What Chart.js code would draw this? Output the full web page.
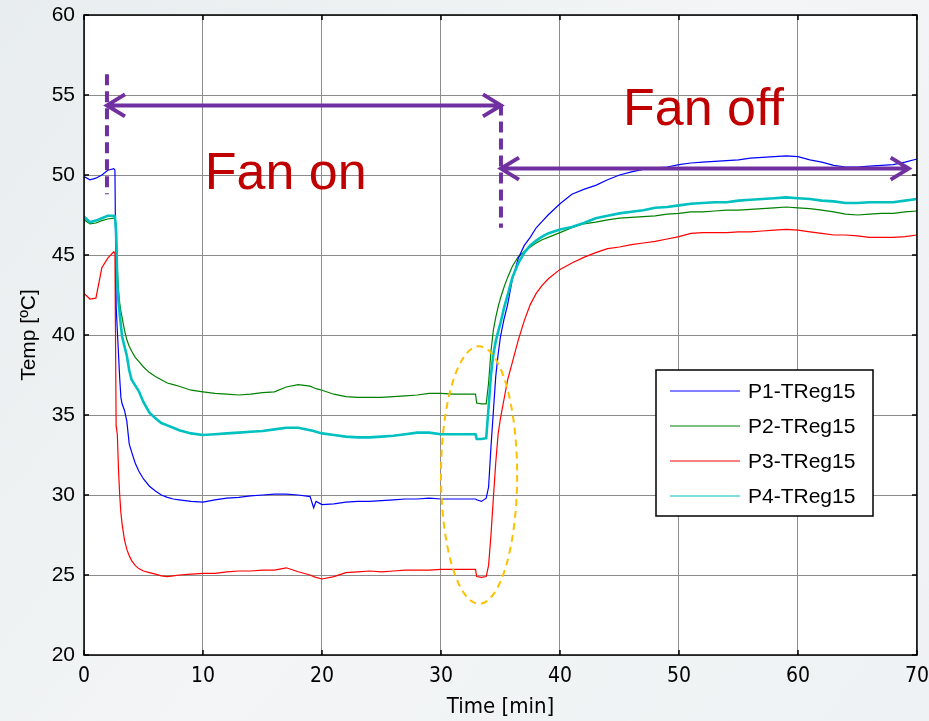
<!DOCTYPE html>
<html>
<head>
<meta charset="utf-8">
<script src="https://cdn.jsdelivr.net/npm/chart.js@4"></script>
<style>
  html, body { margin: 0; padding: 0; background: #eef2f3; }
  #wrap { width: 929px; height: 721px; }
</style>
</head>
<body>
<div id="wrap"><canvas id="tempChart" width="929" height="721"></canvas></div>
<script>
// time axis (min), shared by all four probes
const minutes = [0, 0.5, 1, 1.5, 2, 2.5, 2.6, 2.7, 2.8, 2.9, 3.0, 3.1, 3.2, 3.4, 3.6, 3.8, 4.0, 4.3, 4.6, 5.0,
  5.5, 6.0, 6.5, 7, 7.5, 8, 9, 10, 11, 12, 13, 14, 15, 16, 17, 18, 19, 19.3, 19.5, 20,
  21, 22, 23, 24, 25, 26, 27, 28, 29, 30, 31, 32, 32.9, 33.0, 33.4, 33.8, 34.0, 34.2, 34.4, 34.6,
  34.8, 35.0, 35.3, 35.6, 36.0, 36.5, 37, 37.5, 38, 38.5, 39, 40, 41, 42, 43, 44, 45, 46, 47, 48,
  49, 50, 51, 52, 53, 54, 55, 56, 57, 58, 59, 60, 61, 62, 63, 64, 65, 66, 67, 68, 69, 70];

const p1 = [49.9, 49.7, 49.8, 50.0, 50.3, 50.4, 50.3, 41.8, 40.3, 38.8, 37.3, 36.1, 35.7, 35.3, 34.6, 33.2, 32.7, 32.0, 31.5, 31.0,
  30.55, 30.25, 30.0, 29.85, 29.75, 29.7, 29.6, 29.55, 29.7, 29.8, 29.85, 29.95, 30.0, 30.05, 30.05, 30.0, 29.9, 29.2, 29.6, 29.4,
  29.45, 29.55, 29.6, 29.6, 29.65, 29.7, 29.75, 29.75, 29.8, 29.75, 29.75, 29.75, 29.75, 29.7, 29.6, 29.8, 30.5, 33.0, 35.2, 37.4,
  38.8, 39.9, 41.0, 41.9, 43.5, 44.8, 45.6, 46.1, 46.7, 47.1, 47.5, 48.2, 48.8, 49.1, 49.35, 49.7, 50.0, 50.2, 50.35, 50.45,
  50.5, 50.65, 50.75, 50.8, 50.85, 50.9, 50.95, 51.05, 51.1, 51.15, 51.2, 51.15, 50.95, 50.8, 50.6, 50.5, 50.5, 50.55, 50.6, 50.65, 50.8, 51.0];

const p2 = [47.2, 46.95, 47.0, 47.15, 47.25, 47.3, 47.3, 46.9, 44.1, 42.8, 42.0, 41.5, 41.1, 40.3, 39.7, 39.3, 39.0, 38.6, 38.35, 38.0,
  37.65, 37.4, 37.2, 37.0, 36.9, 36.8, 36.55, 36.45, 36.35, 36.3, 36.25, 36.3, 36.4, 36.45, 36.75, 36.9, 36.8, 36.7, 36.65, 36.55,
  36.3, 36.15, 36.1, 36.1, 36.1, 36.15, 36.2, 36.25, 36.35, 36.35, 36.3, 36.3, 36.3, 35.75, 35.7, 35.7, 37.0, 39.0, 40.3, 41.1,
  41.75, 42.3, 43.0, 43.6, 44.3, 44.9, 45.2, 45.5, 45.75, 45.95, 46.1, 46.4, 46.7, 46.95, 47.05, 47.2, 47.3, 47.35, 47.4, 47.45,
  47.55, 47.6, 47.7, 47.7, 47.75, 47.8, 47.8, 47.85, 47.9, 47.95, 48.0, 47.95, 47.9, 47.8, 47.7, 47.55, 47.5, 47.55, 47.6, 47.6, 47.7, 47.75];

const p3 = [42.6, 42.25, 42.3, 44.2, 44.8, 45.2, 45.1, 34.3, 33.8, 31.6, 30.0, 28.9, 28.2, 27.2, 26.6, 26.2, 25.9, 25.6, 25.4, 25.25,
  25.15, 25.05, 24.95, 24.9, 24.95, 25.0, 25.05, 25.1, 25.1, 25.2, 25.25, 25.25, 25.3, 25.3, 25.45, 25.2, 25.0, 24.9, 24.85, 24.75,
  24.9, 25.15, 25.2, 25.25, 25.2, 25.25, 25.3, 25.3, 25.3, 25.35, 25.35, 25.35, 25.35, 24.9, 24.85, 24.9, 25.6, 27.5, 29.8, 32.0,
  33.8, 34.8, 36.0, 37.2, 38.3, 39.7, 40.9, 41.9, 42.6, 43.1, 43.5, 44.1, 44.5, 44.85, 45.15, 45.4, 45.5, 45.65, 45.75, 45.85,
  46.0, 46.15, 46.35, 46.4, 46.4, 46.4, 46.45, 46.45, 46.5, 46.55, 46.6, 46.55, 46.45, 46.35, 46.25, 46.25, 46.2, 46.1, 46.1, 46.1, 46.15, 46.25];

const p4 = [47.4, 47.05, 47.15, 47.3, 47.45, 47.45, 47.4, 46.5, 43.2, 42.1, 41.3, 40.6, 39.9, 39.3, 38.7, 37.8, 37.2, 36.85, 36.5, 35.8,
  35.15, 34.8, 34.5, 34.35, 34.2, 34.05, 33.85, 33.75, 33.8, 33.85, 33.9, 33.95, 34.0, 34.1, 34.2, 34.2, 34.05, 34.0, 33.95, 33.85,
  33.75, 33.65, 33.6, 33.6, 33.65, 33.7, 33.8, 33.9, 33.9, 33.8, 33.8, 33.8, 33.8, 33.5, 33.5, 33.55, 35.5, 37.5, 38.8, 39.6,
  40.2, 40.75, 41.7, 42.5, 43.6, 44.5, 45.15, 45.6, 45.9, 46.15, 46.35, 46.6, 46.75, 47.0, 47.3, 47.45, 47.6, 47.7, 47.8, 47.95,
  48.0, 48.1, 48.2, 48.25, 48.3, 48.3, 48.4, 48.45, 48.5, 48.55, 48.6, 48.55, 48.5, 48.4, 48.35, 48.25, 48.25, 48.3, 48.3, 48.3, 48.4, 48.5];

const seriesNames = ['P1-TReg15', 'P2-TReg15', 'P3-TReg15', 'P4-TReg15'];
const seriesColors = ['#0000ff', '#008000', '#ff0000', '#00c0c0'];

// annotation anchors in data units
const fanSwitch = [1.93, 35.04];          // dashed vertical markers (min)
const markerSpan = [[56.3, 48.8], [54.4, 46.7]];
const fanOnArrow = [1.93, 35.04, 54.35];  // from, to, temp
const fanOffArrow = [35.04, 69.3, 50.4];
const fanLabels = [['Fan on', 10.15, 49.1], ['Fan off', 45.3, 53.1]];
const ellipseMark = [33.2, 31.25, 3.2, 8.05]; // centre t, centre T, half-width, half-height

const ctx = document.getElementById('tempChart').getContext('2d');

const datasets = [p1, p2, p3, p4].map((vals, i) => ({
  label: seriesNames[i],
  data: vals.map((v, k) => ({ x: minutes[k], y: v })),
  borderColor: seriesColors[i],
  borderWidth: i === 3 ? 2.6 : 1.2,
  pointRadius: 0,
  fill: false,
  tension: 0,
  order: [1, 2, 3, 0][i]
}));

const decor = {
  id: 'decor',
  beforeDraw(chart) {
    const c = chart.ctx, a = chart.chartArea;
    const g = c.createLinearGradient(0, 0, chart.width, chart.height);
    g.addColorStop(0, '#e8edef');
    g.addColorStop(0.5, '#f3f5f6');
    g.addColorStop(1, '#eef2f4');
    c.save();
    c.fillStyle = g;
    c.fillRect(0, 0, chart.width, chart.height);
    c.fillStyle = '#ffffff';
    c.fillRect(a.left, a.top, a.right - a.left, a.bottom - a.top);
    c.restore();
  },
  afterDatasetsDraw(chart) {
    const c = chart.ctx, a = chart.chartArea;
    const xs = chart.scales.x, ys = chart.scales.y;
    c.save();
    // box + inner ticks
    c.strokeStyle = '#000';
    c.lineWidth = 1.5;
    c.strokeRect(a.left, a.top, a.right - a.left, a.bottom - a.top);
    c.beginPath();
    xs.ticks.forEach(t => {
      const px = xs.getPixelForValue(t.value);
      c.moveTo(px, a.bottom); c.lineTo(px, a.bottom - 5);
      c.moveTo(px, a.top); c.lineTo(px, a.top + 5);
    });
    ys.ticks.forEach(t => {
      const py = ys.getPixelForValue(t.value);
      c.moveTo(a.left, py); c.lineTo(a.left + 5, py);
      c.moveTo(a.right, py); c.lineTo(a.right - 5, py);
    });
    c.stroke();

    // orange dashed ellipse
    const ex = xs.getPixelForValue(ellipseMark[0]), ey = ys.getPixelForValue(ellipseMark[1]);
    const erx = xs.getPixelForValue(ellipseMark[0] + ellipseMark[2]) - ex;
    const ery = ey - ys.getPixelForValue(ellipseMark[1] + ellipseMark[3]);
    c.strokeStyle = '#ffc000';
    c.lineWidth = 2;
    c.setLineDash([7, 5]);
    c.beginPath();
    c.ellipse(ex, ey, erx, ery, 0, 0, Math.PI * 2);
    c.stroke();

    // purple dashed markers
    c.strokeStyle = '#7030a0';
    c.lineWidth = 4;
    c.setLineDash([11, 6]);
    fanSwitch.forEach((t, i) => {
      const px = xs.getPixelForValue(t);
      c.beginPath();
      c.moveTo(px, ys.getPixelForValue(markerSpan[i][0]));
      c.lineTo(px, ys.getPixelForValue(markerSpan[i][1]));
      c.stroke();
    });
    c.setLineDash([]);

    const arrow = spec => {
      const x1 = xs.getPixelForValue(spec[0]), x2 = xs.getPixelForValue(spec[1]);
      const py = ys.getPixelForValue(spec[2]);
      c.beginPath();
      c.moveTo(x1, py); c.lineTo(x2, py);
      c.moveTo(x2 - 18, py - 11); c.lineTo(x2, py); c.lineTo(x2 - 18, py + 11);
      c.moveTo(x1 + 18, py - 11); c.lineTo(x1, py); c.lineTo(x1 + 18, py + 11);
      c.stroke();
    };
    c.lineJoin = 'miter';
    c.lineCap = 'butt';
    arrow(fanOnArrow);
    arrow(fanOffArrow);

    // labels
    c.fillStyle = '#c00000';
    c.font = '52px "Liberation Sans", Arial, sans-serif';
    c.textBaseline = 'alphabetic';
    fanLabels.forEach(([txt, t, v]) => {
      c.fillText(txt, xs.getPixelForValue(t), ys.getPixelForValue(v));
    });

    // legend box
    const lx = a.left + 572, ly = a.top + 355, lw = 217, lh = 146;
    c.fillStyle = '#fff';
    c.fillRect(lx, ly, lw, lh);
    c.strokeStyle = '#000';
    c.lineWidth = 1.5;
    c.strokeRect(lx, ly, lw, lh);
    c.font = '21px "Liberation Sans", Arial, sans-serif';
    c.textBaseline = 'middle';
    seriesNames.forEach((name, i) => {
      const yy = ly + 21 + i * 35;
      c.strokeStyle = seriesColors[i];
      c.lineWidth = 1.2;
      c.beginPath();
      c.moveTo(lx + 14, yy); c.lineTo(lx + 84, yy);
      c.stroke();
      c.fillStyle = '#000';
      c.fillText(name, lx + 92, yy + 1);
    });
    c.restore();
  }
};

new Chart(ctx, {
  type: 'line',
  data: { datasets },
  options: {
    responsive: false,
    animation: false,
    layout: { padding: { top: 15, right: 12, left: 0, bottom: 0 } },
    plugins: { legend: { display: false }, tooltip: { enabled: false } },
    scales: {
      x: {
        type: 'linear',
        min: 0, max: 70,
        ticks: { stepSize: 10, color: '#000', padding: 0,
          font: { family: '"Liberation Sans Narrow", "DejaVu Sans Condensed", sans-serif', size: 21 } },
        grid: { color: '#8c8c8c', lineWidth: 1, drawTicks: true, tickLength: 9, tickColor: 'rgba(0,0,0,0)' },
        border: { display: false },
        title: { display: true, text: 'Time [min]', color: '#000', padding: { top: 0, bottom: 1 },
          font: { family: '"Liberation Sans Narrow", "DejaVu Sans Condensed", sans-serif', size: 22 } },
        afterFit(s) { s.height = 66; }
      },
      y: {
        min: 20, max: 60,
        ticks: { stepSize: 5, color: '#000', padding: 0,
          font: { family: '"Liberation Sans", Arial, sans-serif', size: 21 } },
        grid: { color: '#8c8c8c', lineWidth: 1, drawTicks: true, tickLength: 9, tickColor: 'rgba(0,0,0,0)' },
        border: { display: false },
        title: { display: true, text: 'Temp [ºC]', color: '#000', padding: { top: 17, bottom: 0 },
          font: { family: '"Liberation Sans", Arial, sans-serif', size: 21 } },
        afterFit(s) { s.width = 84; }
      }
    }
  },
  plugins: [decor]
});
</script>
</body>
</html>
